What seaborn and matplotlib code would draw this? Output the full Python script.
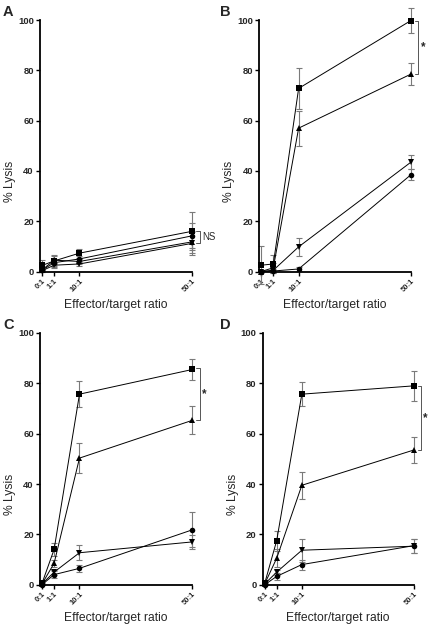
import numpy as np
import pandas as pd
import matplotlib
matplotlib.use("Agg")
import matplotlib.pyplot as plt
import seaborn as sns

sns.set_theme(style="ticks")
plt.rcParams['font.family'] = ['Liberation Sans', 'DejaVu Sans']

# x positions of the effector/target ratios and their tick labels
ratio_pos = [-3.3, 1, 10, 50]
ratio_labels = ["0:1", "1:1", "10:1", "50:1"]
series_names = ["square", "triangle_up", "triangle_down", "circle"]
series_markers = {"square": "s", "triangle_up": "^", "triangle_down": "v", "circle": "o"}

# Panel A
a_square = [2.4, 4.2, 7.3, 16.0]
a_square_err = [2.0, 2.5, 1.8, 7.5]
a_tri_up = [0.6, 4.5, 4.0, 11.8]
a_tri_up_err = [0.5, 1.5, 1.0, 4.5]
a_tri_down = [0.3, 2.5, 3.0, 11.2]
a_tri_down_err = [0.3, 1.0, 1.0, 4.5]
a_circle = [0.5, 3.5, 5.0, 14.2]
a_circle_err = [0.5, 1.5, 1.2, 5.0]

# Panel B
b_square = [2.5, 3.0, 72.8, 99.8]
b_square_err = [7.5, 3.5, 8.2, 4.8]
b_tri_up = [0.0, 1.5, 57.0, 78.5]
b_tri_up_err = [0.5, 2.0, 7.0, 4.5]
b_tri_down = [0.0, 0.5, 9.8, 43.5]
b_tri_down_err = [0.3, 0.5, 3.5, 2.8]
b_circle = [0.0, 0.2, 1.0, 38.5]
b_circle_err = [0.3, 0.3, 0.8, 2.3]

# Panel C
c_square = [0.5, 14.0, 75.7, 85.5]
c_square_err = [0.5, 2.5, 5.2, 4.0]
c_tri_up = [0.3, 8.5, 50.3, 65.3]
c_tri_up_err = [0.3, 1.5, 6.0, 5.5]
c_tri_down = [0.3, 5.0, 12.7, 17.0]
c_tri_down_err = [0.3, 1.0, 3.0, 2.8]
c_circle = [0.0, 4.0, 6.5, 21.8]
c_circle_err = [0.3, 1.5, 1.5, 7.0]

# Panel D
d_square = [0.5, 17.5, 75.7, 79.0]
d_square_err = [0.5, 4.0, 4.8, 6.0]
d_tri_up = [0.3, 10.5, 39.5, 53.5]
d_tri_up_err = [0.3, 3.5, 5.3, 5.0]
d_tri_down = [0.3, 5.0, 13.7, 15.3]
d_tri_down_err = [0.3, 1.0, 4.5, 2.8]
d_circle = [0.0, 3.3, 8.0, 15.5]
d_circle_err = [0.3, 1.3, 2.0, 2.8]

# significance brackets (upper, lower, label)
a_bracket = (16.0, 11.5, "NS")
b_bracket = (99.8, 78.5, "*")
c_bracket = (86.0, 65.3, "*")
d_bracket = (79.0, 53.5, "*")

panels = [
    ("A", [a_square, a_tri_up, a_tri_down, a_circle],
     [a_square_err, a_tri_up_err, a_tri_down_err, a_circle_err], a_bracket),
    ("B", [b_square, b_tri_up, b_tri_down, b_circle],
     [b_square_err, b_tri_up_err, b_tri_down_err, b_circle_err], b_bracket),
    ("C", [c_square, c_tri_up, c_tri_down, c_circle],
     [c_square_err, c_tri_up_err, c_tri_down_err, c_circle_err], c_bracket),
    ("D", [d_square, d_tri_up, d_tri_down, d_circle],
     [d_square_err, d_tri_up_err, d_tri_down_err, d_circle_err], d_bracket),
]

W, H = 434, 626
fig = plt.figure(figsize=(W / 100, H / 100), dpi=100)

# axes rectangles in pixels: left, top, right, bottom
rects = [(40, 20, 192.3, 271.5), (259.3, 20, 411, 271.5),
         (40, 333, 192.3, 584.7), (262.7, 333, 413.7, 584.7)]
label_pos = [(3, 5), (220, 5), (3, 318), (220, 318)]

for (name, means, errs, bracket), (l, t, r, b), (lx, ly) in zip(panels, rects, label_pos):
    ax = fig.add_axes([l / W, (H - b) / H, (r - l) / W, (b - t) / H])
    rows = []
    for sname, m, e in zip(series_names, means, errs):
        for xp, v, ev in zip(ratio_pos, m, e):
            rows.append({"x": xp, "y": v, "err": ev, "series": sname})
    df = pd.DataFrame(rows)
    for sname in series_names:
        sub = df[df.series == sname]
        ax.errorbar(sub.x, sub.y, yerr=sub.err, fmt="none", ecolor="#7a7a7a",
                    elinewidth=0.8, capsize=2.2, capthick=0.8, zorder=2, clip_on=False)
    sns.lineplot(data=df, x="x", y="y", hue="series", style="series",
                 markers=series_markers, dashes=False, palette=["black"] * 4,
                 linewidth=0.7, markersize=4.0, markeredgewidth=0,
                 legend=False, ax=ax, zorder=3, clip_on=False)
    ax.set_xlim(-4, 50)
    ax.set_ylim(0, 100)
    ax.set_xticks(ratio_pos)
    ax.set_xticklabels(ratio_labels, rotation=45, ha="right", rotation_mode="anchor",
                       fontsize=5.5, fontweight="bold")
    ax.set_yticks([0, 20, 40, 60, 80, 100])
    ax.set_yticklabels(["0", "20", "40", "60", "80", "100"], fontsize=6.8, fontweight="bold")
    ax.tick_params(axis="both", length=3, width=1.0, pad=1.5, color="black")
    for s in ["top", "right"]:
        ax.spines[s].set_visible(False)
    for s in ["left", "bottom"]:
        ax.spines[s].set_linewidth(1.3)
        ax.spines[s].set_color("black")
    ax.set_xlabel("Effector/target ratio", fontsize=8.7, labelpad=4)
    ax.set_ylabel("% Lysis", fontsize=8.7)
    ax.yaxis.set_label_coords(-0.16, 0.36)
    # bracket
    y1, y2, txt = bracket
    bx = 52.6
    ax.plot([bx - 1.2, bx, bx, bx - 1.2], [y1, y1, y2, y2], color="#555555",
            lw=0.7, clip_on=False)
    ax.text(bx + 0.8, (y1 + y2) / 2, txt, fontsize=7 if txt == "NS" else 8.5,
            fontweight="normal" if txt == "NS" else "bold",
            ha="left", va="center", clip_on=False)
    fig.text(lx / W, 1 - ly / H, name, fontsize=10.5, fontweight="heavy",
             ha="left", va="top")

fig.savefig("out.png", dpi=100)
